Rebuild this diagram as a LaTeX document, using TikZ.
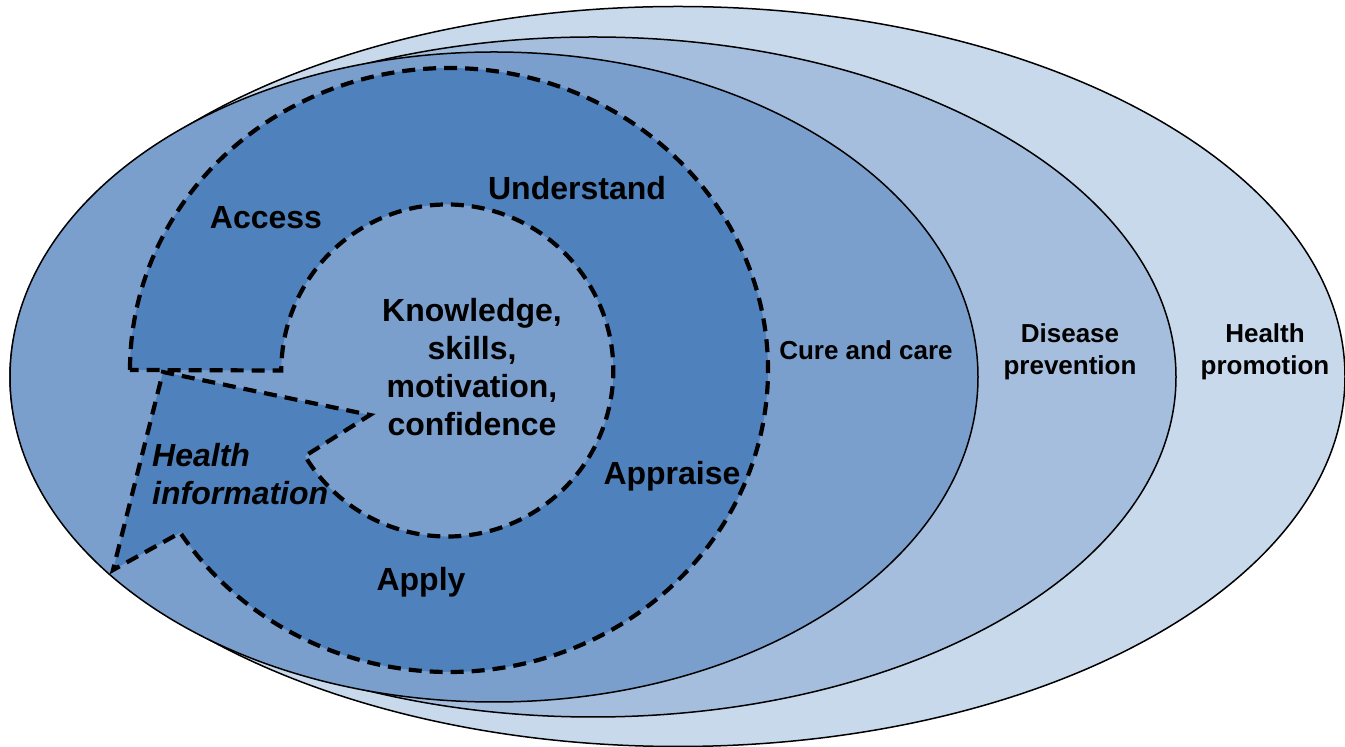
\documentclass[tikz,border=0pt]{standalone}
\usepackage{fontspec}
\setmainfont{Liberation Sans}
\usepackage{tikz}

\definecolor{promocol}{HTML}{C9D9EC}
\definecolor{prevcol}{HTML}{A5BEDD}
\definecolor{curecol}{HTML}{7A9FCC}
\definecolor{skillcol}{HTML}{4F81BD}

\begin{document}
\begin{tikzpicture}[x=1pt, y=1pt,
  ring/.style={draw=black, line width=1.5pt},
  dashbound/.style={draw=black, line width=4.2pt, dash pattern=on 13pt off 8pt},
  biglab/.style={font=\fontsize{32}{38}\selectfont\bfseries, align=center, inner sep=0pt},
  smalllab/.style={font=\fontsize{26}{32}\selectfont\bfseries, align=center, inner sep=0pt}]

  \useasboundingbox (0,0) rectangle (1345,747);

  % the three settings
  \draw[ring, fill=promocol] (678,370.5) ellipse [x radius=667, y radius=370];
  \draw[ring, fill=prevcol] (593,370) ellipse [x radius=583, y radius=340];
  \draw[ring, fill=curecol] (494,370) ellipse [x radius=484, y radius=325];

  % health literacy ring with the information arrow
  \draw[dashbound, fill=skillcol] (130,377)
    arc [start angle=180, end angle=-147.4, x radius=319, y radius=302]
    -- (113,177) -- (163,375) -- (370,332) -- (305,291)
    arc [start angle=211, end angle=540, radius=166] -- cycle;

  \node[biglab] (access) at (266,529) {Access};
  \node[biglab] (understand) at (577,559) {Understand};
  \node[biglab] (appraise) at (672,271) {Appraise};
  \node[biglab] (apply) at (421,165) {Apply};
  \node[biglab] (core) at (472,380) {Knowledge,\\skills,\\motivation,\\confidence};
  \node[biglab, anchor=west, align=left, font=\fontsize{32}{38}\selectfont\bfseries\itshape]
    (info) at (152,273) {Health\\information};

  \node[smalllab] (cure) at (866,397) {Cure and care};
  \node[smalllab] (prevention) at (1070,395) {Disease\\prevention};
  \node[smalllab] (promotion) at (1265,395) {Health\\promotion};

\end{tikzpicture}
\end{document}
